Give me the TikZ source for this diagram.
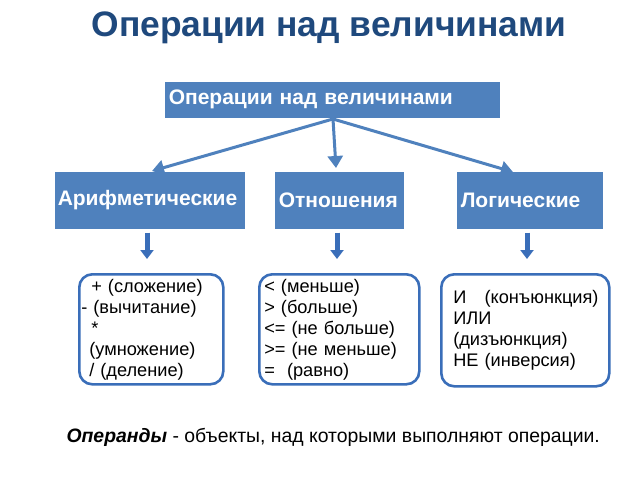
\documentclass[tikz,border=0pt]{standalone}
\usepackage{fontspec}
\setmainfont{Liberation Sans}
\usetikzlibrary{arrows.meta,shadows}
\definecolor{titleblue}{RGB}{31,73,125}
\definecolor{boxblue}{RGB}{79,129,189}
\definecolor{edgeblue}{RGB}{58,110,185}
\tikzset{
  hbox/.style={fill=boxblue, draw=white, line width=1.5pt, text=white,
    font=\fontsize{21}{24}\selectfont\bfseries, align=left, inner sep=4pt,
    drop shadow={shadow xshift=1.5pt, shadow yshift=-1.5pt, fill=black!40, opacity=0.5}},
  lbox/.style={draw=edgeblue, line width=2.6pt, rounded corners=13pt, fill=white,
    font=\fontsize{18.2}{21}\selectfont, align=left, inner sep=2pt},
  bigarrow/.style={draw=boxblue, line width=3pt, -{Triangle[width=15pt,length=12pt]}},
  smallarrow/.style={draw=edgeblue, line width=5pt, -{Triangle[width=13pt,length=9pt]}, shorten >=14pt, shorten <=2pt},
}
\begin{document}
\begin{tikzpicture}[x=1pt,y=-1pt]
\useasboundingbox (0,0) rectangle (640,480);
\node[text=titleblue, font=\fontsize{35.4}{40}\selectfont\bfseries] (title) at (329,28) {Операции над величинами};
\node[hbox, anchor=north west, minimum width=337pt, minimum height=38pt, text width=327pt] (top) at (163,80) {Операции над величинами};
\node[hbox, anchor=north west, minimum width=188pt, minimum height=59pt, text width=184pt] (ar) at (53,170) {Арифметические};
\node[hbox, anchor=north west, minimum width=131pt, minimum height=59pt, text width=121pt] (rel) at (273,170) {Отношения};
\node[hbox, anchor=north west, minimum width=148pt, minimum height=59pt, text width=138pt] (log) at (455,170) {Логические};
\coordinate (tb) at (333,119);
\draw[bigarrow] (tb) -- (152,171);
\draw[bigarrow] (tb) -- (336,168);
\draw[bigarrow] (tb) -- (513,172);
\node[lbox, anchor=north west, minimum width=144pt, minimum height=110pt, text width=140pt] (b1) at (78,273)
  {\hspace*{10pt}+ (сложение)\\- (вычитание)\\\hspace*{10pt}*\\\hspace*{8pt}(умножение)\\\hspace*{8pt}/ (деление)};
\node[lbox, anchor=north west, minimum width=160pt, minimum height=110pt, text width=150pt, inner xsep=4pt] (b2) at (258,273)
  {< (меньше)\\> (больше)\\<= (не больше)\\>= (не меньше)\\=\ \ (равно)};
\node[lbox, anchor=north west, minimum width=168pt, minimum height=112pt, text width=160pt, inner xsep=4pt] (b3) at (440,273)
  {\hspace*{8pt}И\ \ \ (конъюнкция)\\\hspace*{8pt}ИЛИ\\\hspace*{8pt}(дизъюнкция)\\\hspace*{8pt}НЕ (инверсия)};
\draw[smallarrow] (ar.south -| 147,0) -- (b1.north -| 147,0);
\draw[smallarrow] (rel.south -| 337,0) -- (b2.north -| 337,0);
\draw[smallarrow] (log.south -| 527,0) -- (b3.north -| 527,0);
\node[font=\fontsize{19.4}{22}\selectfont, anchor=west] (cap) at (63,437) {\textbf{\textit{Операнды}} - объекты, над которыми выполняют операции.};
\end{tikzpicture}
\end{document}
